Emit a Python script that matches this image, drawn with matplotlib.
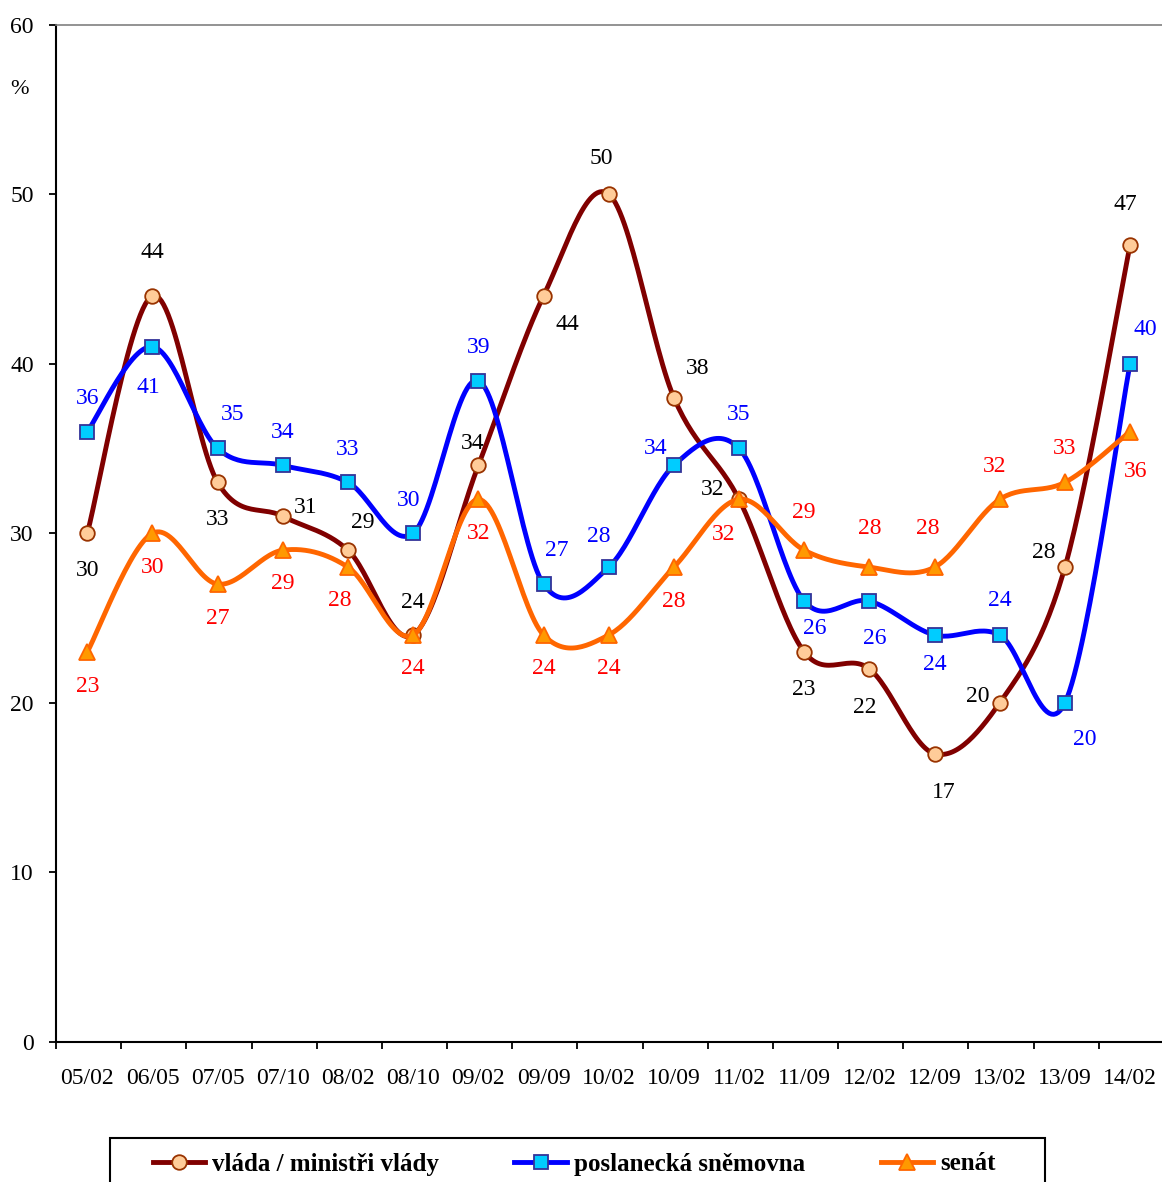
import numpy as np
import matplotlib as mpl
import matplotlib.pyplot as plt
from matplotlib.lines import Line2D
from matplotlib.patches import Rectangle

# -------------------- Data --------------------
periods = ["05/02", "06/05", "07/05", "07/10", "08/02", "08/10", "09/02", "09/09", "10/02",
           "10/09", "11/02", "11/09", "12/02", "12/09", "13/02", "13/09", "14/02"]
vlada = [30, 44, 33, 31, 29, 24, 34, 44, 50, 38, 32, 23, 22, 17, 20, 28, 47]
snemovna = [36, 41, 35, 34, 33, 30, 39, 27, 28, 34, 35, 26, 26, 24, 24, 20, 40]
senat = [23, 30, 27, 29, 28, 24, 32, 24, 24, 28, 32, 29, 28, 28, 32, 33, 36]

labels = ["vláda / ministři vlády", "poslanecká sněmovna", "senát"]

# data-label offsets in pixels (dx, dy; dy positive = up)
off_vlada = [(0, -37), (0, 43), (0, -37), (23, 9), (15, 28), (0, 33), (-6, 22), (24, -29), (-7, 36),
             (24, 29), (-26, 10), (0, -38), (-5, -39), (9, -39), (-22, 6), (-21, 15), (-5, 40)]
off_snem = [(0, 33), (-4, -41), (15, 34), (0, 33), (0, 33), (-5, 33), (0, 33), (13, 34), (-10, 31),
            (-18, 17), (0, 34), (11, -27), (5, -37), (0, -30), (0, 34), (20, -37), (15, 34)]
off_senat = [(0, -35), (0, -34), (0, -34), (0, -33), (-8, -33), (0, -34), (0, -34), (0, -34), (0, -34),
             (0, -34), (-15, -35), (0, 38), (0, 39), (-7, 39), (-5, 33), (0, 34), (6, -40)]

# -------------------- Style --------------------
mpl.rcParams["font.family"] = ["Liberation Serif", "DejaVu Serif"]
FS = 17
LW = 3.5

STYLES = [
    dict(color="#800000", marker="o", mfc="#FFCC99", mec="#993300", ms=10.5, lbl="black"),
    dict(color="#0000FF", marker="s", mfc="#00CCFF", mec="#333399", ms=10, lbl="#0000FF"),
    dict(color="#FF6600", marker="^", mfc="#FF9900", mec="#FF6600", ms=11.5, lbl="#FF0000"),
]


def smooth(x, y, n=30):
    # Catmull-Rom style bezier, like spreadsheet "smoothed line"
    x = np.asarray(x, float)
    y = np.asarray(y, float)
    px = np.concatenate([[x[0]], x, [x[-1]]])
    py = np.concatenate([[y[0]], y, [y[-1]]])
    t = np.linspace(0, 1, n)
    xs, ys = [], []
    for i in range(1, len(px) - 2):
        p0 = np.array([px[i], py[i]])
        p3 = np.array([px[i + 1], py[i + 1]])
        c1 = p0 + (np.array([px[i + 1], py[i + 1]]) - np.array([px[i - 1], py[i - 1]])) / 6
        c2 = p3 - (np.array([px[i + 2], py[i + 2]]) - np.array([px[i], py[i]])) / 6
        b = ((1 - t) ** 3)[:, None] * p0 + (3 * (1 - t) ** 2 * t)[:, None] * c1 \
            + (3 * (1 - t) * t ** 2)[:, None] * c2 + (t ** 3)[:, None] * p3
        xs.append(b[:, 0])
        ys.append(b[:, 1])
    return np.concatenate(xs), np.concatenate(ys)


fig = plt.figure(figsize=(11.62, 11.82), dpi=100)
ax = fig.add_axes([56 / 1162, 1 - 1042 / 1182, 1108 / 1162, (1042 - 24.5) / 1182])

xpos = np.arange(len(periods)) + 0.48
series = [vlada, snemovna, senat]
offsets = [off_vlada, off_snem, off_senat]

for k, (vals, st, offs) in enumerate(zip(series, STYLES, offsets)):
    sx, sy = smooth(xpos, vals)
    ax.plot(sx, sy, color=st["color"], lw=LW, solid_capstyle="round", zorder=2 + k)
    ax.plot(xpos, vals, ls="none", marker=st["marker"], ms=st["ms"], mfc=st["mfc"],
            mec=st["mec"], mew=1.3, zorder=2.5 + k)
    for xi, v, (dx, dy) in zip(xpos, vals, offs):
        ax.annotate(str(v), (xi, v), xytext=(dx, dy), textcoords="offset pixels",
                    ha="center", va="center", fontsize=FS, color=st["lbl"], zorder=10)

ax.set_xlim(0, len(periods))
ax.set_ylim(0, 60)
ax.set_yticks(range(0, 61, 10))
ax.set_xticks(np.arange(len(periods) + 1))
ax.set_xticklabels([])
ax.set_xticks(xpos, minor=True)
ax.set_xticklabels(periods, minor=True)
ax.tick_params(axis="x", which="major", direction="out", length=5, width=1.3)
ax.tick_params(axis="x", which="minor", length=0, pad=19, labelsize=FS)
ax.tick_params(axis="y", direction="out", length=5, width=1.3, pad=11, labelsize=FS)

for s in ["left", "bottom"]:
    ax.spines[s].set_linewidth(1.5)
    ax.spines[s].set_color("black")
ax.spines["top"].set_color("#808080")
ax.spines["top"].set_linewidth(1.2)
ax.spines["right"].set_visible(False)

fig.text(20 / 1162, 1 - 89 / 1182, "%", ha="center", va="center", fontsize=FS - 1)

# -------------------- Legend --------------------
handles = [Line2D([], [], color=st["color"], lw=LW, marker=st["marker"], ms=st["ms"],
                  mfc=st["mfc"], mec=st["mec"], mew=1.3) for st in STYLES]
fig.patches.append(Rectangle((110 / 1162, -0.05), (1045 - 110) / 1162, 0.05 + 1 - 1138 / 1182,
                             transform=fig.transFigure, fill=False, ec="black", lw=1.5))
fig.legend(handles, labels, loc="center left", bbox_to_anchor=(140 / 1162, 1 - 1164 / 1182),
           ncol=3, frameon=False, borderpad=0, handlelength=2.1, handletextpad=0.3,
           columnspacing=3.0, prop=dict(weight="bold", size=18))

fig.savefig("out.png", dpi=100)
